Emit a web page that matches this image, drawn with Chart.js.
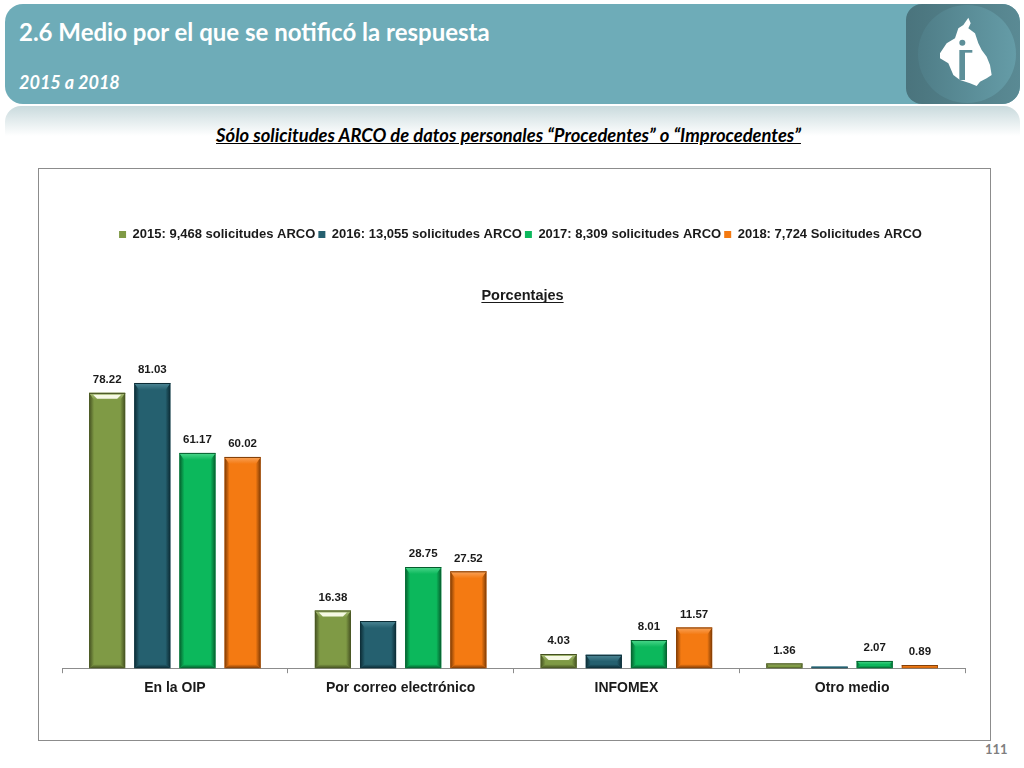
<!DOCTYPE html>
<html lang="es">
<head>
<meta charset="utf-8">
<title>2.6 Medio por el que se notificó la respuesta</title>
<script src="https://cdn.jsdelivr.net/npm/chart.js@4"></script>
<style>
  html, body { margin: 0; padding: 0; background: #fff; }
  body { position: relative; width: 1024px; height: 768px; overflow: hidden; font-family: Lato, sans-serif; }
  .banner { position: absolute; left: 5px; top: 4px; width: 1015px; height: 100px; border-radius: 18px; background: #6eacb8; overflow: hidden; }
  .reflection { position: absolute; left: 5px; top: 106px; width: 1015px; height: 30px; border-radius: 16px 16px 0 0; background: linear-gradient(#c9dadd, #ffffff); }
  .logo-box { position: absolute; right: 0; top: 0; width: 114px; height: 100px; border-radius: 16px; background: linear-gradient(90deg, #4a747d, #5a8a94); }
  .logo-circle { position: absolute; left: 12px; top: 1px; width: 98px; height: 98px; border-radius: 50%; background: linear-gradient(90deg, #4f7d87, #659ca7); }
  .logo { position: absolute; left: 760px; top: 0; width: 264px; height: 160px; }
  h1 { position: absolute; left: 19px; top: 17px; margin: 0; color: #fff; font-size: 24px; line-height: 30px; font-weight: 700; white-space: nowrap; }
  h2 { position: absolute; left: 19px; top: 71px; margin: 0; color: #fff; font-size: 18px; line-height: 22px; font-weight: 700; font-style: italic; white-space: nowrap; }
  .note { position: absolute; left: 0; top: 124px; width: 1017px; text-align: center; color: #000; font-size: 18.4px; line-height: 22px; font-weight: 700; font-style: italic; text-decoration: underline; white-space: nowrap; }
  .chart-box { position: absolute; left: 38px; top: 168px; width: 951px; height: 571px; border: 1px solid #8c8c8c; }
  .page { position: absolute; left: 985px; top: 742px; color: #7f7f7f; font-size: 13px; line-height: 15px; font-weight: 700; }
</style>
</head>
<body>
<div class="reflection"></div>
<div class="banner">
  <div class="logo-box"><div class="logo-circle"></div></div>
</div>
<h1>2.6 Medio por el que se notificó la respuesta</h1>
<h2>2015 a 2018</h2>
<svg class="logo" viewBox="0 0 792 480">
  <polygon fill="#fff" points="625,53 632,70 625,85 645,100 655,130 665,150 680,170 690,195 695,225 680,235 660,245 650,258 630,250 600,240 580,225 565,190 540,175 540,160 560,130 585,115 595,85 610,75"/>
  <circle cx="607" cy="128" r="9" fill="#5d8f99"/>
  <rect x="598" y="150" width="17" height="90" fill="#5d8f99"/>
  <rect x="615" y="150" width="22" height="8" fill="#5d8f99"/>
</svg>
<div class="note">Sólo solicitudes ARCO de datos personales “Procedentes” o “Improcedentes”</div>
<div class="chart-box"><canvas id="chart"></canvas></div>
<div class="page">111</div>

<script>
const categories = ["En la OIP", "Por correo electrónico", "INFOMEX", "Otro medio"];
const seriesNames = [
  "2015: 9,468 solicitudes ARCO",
  "2016: 13,055 solicitudes ARCO",
  "2017: 8,309 solicitudes ARCO",
  "2018: 7,724 Solicitudes ARCO",
];
const values2015 = [78.22, 16.38, 4.03, 1.36];
const values2016 = [81.03, 13.4, 3.8, 0.5];
const values2017 = [61.17, 28.75, 8.01, 2.07];
const values2018 = [60.02, 27.52, 11.57, 0.89];
// the reference only prints the first label of the 2016 series
const shown2016 = [true, false, false, false];
const shownAll = [true, true, true, true];

const seriesColors = ["#7f9a45", "#25606f", "#0cb85c", "#f47a12"];
const bevelLight = ["#a8bc78", "#4f8897", "#4ed88d", "#f9a45c"];
const bevelDark = ["#434f20", "#0b2a33", "#055c2c", "#7d3a04"];
const textFont = "'Liberation Sans', Arial, sans-serif";

function facet(ctx, fill, points) {
  ctx.fillStyle = fill;
  ctx.beginPath();
  points.forEach(([x, y], i) => (i ? ctx.lineTo(x, y) : ctx.moveTo(x, y)));
  ctx.closePath();
  ctx.fill();
}

function fade(ctx, x0, y0, x1, y1, from, to) {
  const g = ctx.createLinearGradient(x0, y0, x1, y1);
  g.addColorStop(0, from);
  g.addColorStop(1, to);
  return g;
}

// Excel style bevel on top of each bar, taken from the bar element geometry
const bevelBars = {
  id: "bevelBars",
  afterDatasetsDraw(chart) {
    const ctx = chart.ctx;
    chart.data.datasets.forEach((dataset, d) => {
      chart.getDatasetMeta(d).data.forEach((bar) => {
        const { x, y, base, width } = bar.getProps(["x", "y", "base", "width"], true);
        const l = x - width / 2;
        const r = x + width / 2;
        const h = base - y;
        const side = Math.min(5, h / 2);
        const top = Math.min(7, h / 2);
        const low = Math.min(4, h / 3);
        const dark = bevelDark[d];
        const main = seriesColors[d];
        facet(ctx, fade(ctx, l, 0, l + side, 0, dark, main), [[l, y], [l, base], [l + side, base - low], [l + side, y + top]]);
        facet(ctx, fade(ctx, r - side, 0, r, 0, main, dark), [[r, y], [r, base], [r - side, base - low], [r - side, y + top]]);
        facet(ctx, fade(ctx, 0, base - low, 0, base, main, dark), [[l, base], [r, base], [r - side, base - low], [l + side, base - low]]);
        facet(ctx, fade(ctx, 0, y, 0, y + top, bevelLight[d], main), [[l, y], [r, y], [r - side, y + top], [l + side, y + top]]);
        if (h > 2) {
          ctx.fillStyle = dark;
          ctx.fillRect(l, y, width, 1);
        }
        if (d === 0 && h > 8) {
          // the 2015 bars carry a pale strip under the top edge
          facet(ctx, "#f6f9e4", [[l + 4, y + 2], [r - 4, y + 2], [r - 8, y + 6], [l + 8, y + 6]]);
        }
      });
    });
  },
};

const valueLabels = {
  id: "valueLabels",
  afterDatasetsDraw(chart) {
    const ctx = chart.ctx;
    ctx.save();
    ctx.font = "bold 11.5px " + textFont;
    ctx.fillStyle = "#1a1a1a";
    ctx.textAlign = "center";
    ctx.textBaseline = "middle";
    chart.data.datasets.forEach((dataset, d) => {
      chart.getDatasetMeta(d).data.forEach((bar, i) => {
        if (dataset.shown[i]) {
          ctx.fillText(dataset.data[i].toFixed(2), bar.x, bar.y - 13);
        }
      });
    });
    ctx.restore();
  },
};

// legend and title sit a little right of the plot centre in the reference
const shiftHeader = {
  id: "shiftHeader",
  afterLayout(chart) {
    chart.legend.left += 7;
    chart.legend.right += 7;
    chart.titleBlock.left += 9;
    chart.titleBlock.right += 9;
  },
};

const titleUnderline = {
  id: "titleUnderline",
  afterDraw(chart) {
    const block = chart.titleBlock;
    const ctx = chart.ctx;
    ctx.save();
    ctx.font = "bold 14.5px " + textFont;
    const w = ctx.measureText(block.options.text).width;
    const cx = (block.left + block.right) / 2;
    const y = block.top + block.options.padding.top + 15;
    ctx.strokeStyle = "#1a1a1a";
    ctx.lineWidth = 1;
    ctx.beginPath();
    ctx.moveTo(cx - w / 2, y + 0.5);
    ctx.lineTo(cx + w / 2, y + 0.5);
    ctx.stroke();
    ctx.restore();
  },
};

function makeDataset(index, values, shown) {
  return {
    label: seriesNames[index],
    data: values,
    shown,
    backgroundColor: seriesColors[index],
    borderWidth: 0,
    categoryPercentage: 0.8,
    barPercentage: 0.8,
  };
}

new Chart(document.getElementById("chart"), {
  type: "bar",
  data: {
    labels: categories,
    datasets: [
      makeDataset(0, values2015, shownAll),
      makeDataset(1, values2016, shown2016),
      makeDataset(2, values2017, shownAll),
      makeDataset(3, values2018, shownAll),
    ],
  },
  plugins: [bevelBars, valueLabels, shiftHeader, titleUnderline],
  options: {
    responsive: true,
    maintainAspectRatio: false,
    animation: false,
    layout: { padding: { left: 23, right: 25, top: 56, bottom: 36 } },
    plugins: {
      tooltip: { enabled: false },
      legend: {
        position: "top",
        labels: {
          boxWidth: 7,
          boxHeight: 7,
          padding: 3,
          color: "#1a1a1a",
          font: { family: textFont, size: 13, weight: "bold" },
        },
      },
      title: {
        display: true,
        text: "Porcentajes",
        weight: 500,
        color: "#1a1a1a",
        font: { family: textFont, size: 14.5, weight: "bold" },
        padding: { top: 36, bottom: 47 },
      },
    },
    scales: {
      x: {
        offset: true,
        border: { color: "#8c8c8c" },
        grid: { offset: true, drawOnChartArea: false, tickLength: 5, tickColor: "#8c8c8c" },
        ticks: {
          padding: 7,
          color: "#1a1a1a",
          maxRotation: 0,
          font: { family: textFont, size: 14, weight: "bold" },
        },
      },
      y: { display: false, min: 0, max: 90 },
    },
  },
});
</script>
</body>
</html>
